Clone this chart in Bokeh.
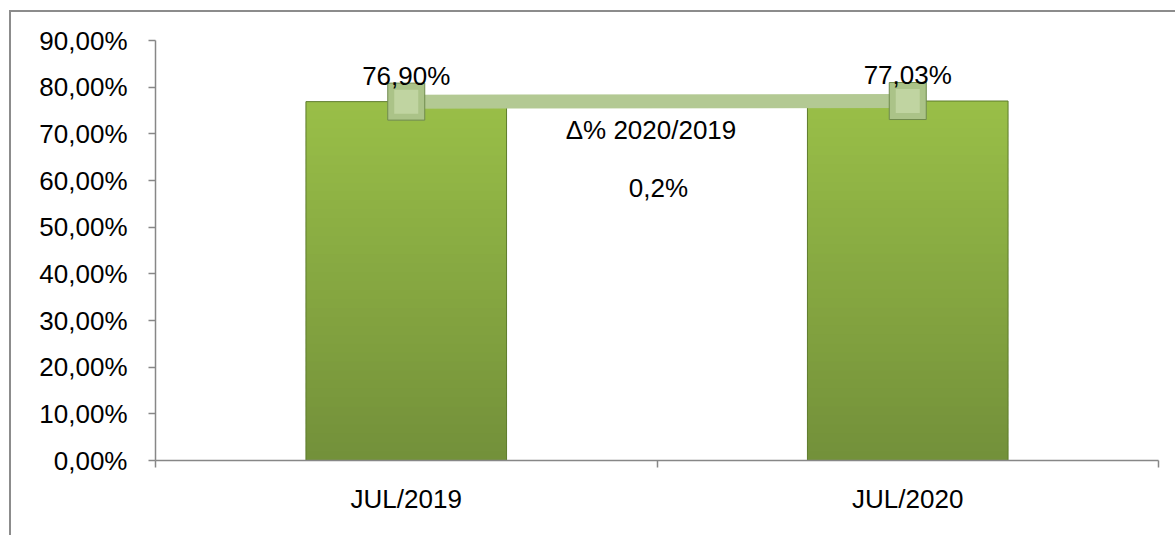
from bokeh.plotting import figure
from bokeh.models import Range1d, FixedTicker, LinearAxis, Label
from bokeh.embed import file_html
from bokeh.resources import INLINE
from bokeh.core.properties import value

# ---- data ----
categories = ["JUL/2019", "JUL/2020"]
values = [76.90, 77.03]
value_labels = ["76,90%", "77,03%"]
y_ticks = [0, 10, 20, 30, 40, 50, 60, 70, 80, 90]
y_tick_labels = ["0,00%", "10,00%", "20,00%", "30,00%", "40,00%",
                 "50,00%", "60,00%", "70,00%", "80,00%", "90,00%"]
delta_title = "Δ% 2020/2019"
delta_value = "0,2%"

FONT = "Liberation Sans"
AXIS_COLOR = "#878787"

xs = [i + 0.5 for i in range(len(categories))]
x_bounds = [i for i in range(len(categories) + 1)]

p = figure(width=1175, height=535,
           x_range=Range1d(0, len(categories)), y_range=Range1d(0, 90),
           x_axis_type=None, y_axis_type=None,
           output_backend="svg", toolbar_location=None,
           min_border_left=155, min_border_right=17,
           min_border_top=40, min_border_bottom=75,
           border_fill_color=None, outline_line_color=None,
           background_fill_color="white",
           styles={"box-shadow": "inset 9px 10px 0 0 white, inset 11px 12px 0 0 #8c8c8c",
                   "background-color": "white"})

yaxis = LinearAxis(ticker=FixedTicker(ticks=y_ticks, minor_ticks=[]),
                   major_label_overrides={t: l for t, l in zip(y_ticks, y_tick_labels)},
                   major_tick_out=7, major_tick_in=0, minor_tick_out=0, minor_tick_in=0,
                   axis_line_color=AXIS_COLOR, axis_line_width=1.5,
                   major_tick_line_color=AXIS_COLOR, major_tick_line_width=1.5,
                   major_label_text_font=FONT, major_label_text_font_size="26px",
                   major_label_text_color="black", major_label_standoff=21)
p.add_layout(yaxis, "left")

xaxis = LinearAxis(ticker=FixedTicker(ticks=xs, minor_ticks=x_bounds),
                   major_label_overrides={x: c for x, c in zip(xs, categories)},
                   major_tick_out=0, major_tick_in=0,
                   minor_tick_out=7, minor_tick_in=0,
                   axis_line_color=AXIS_COLOR, axis_line_width=1.5,
                   minor_tick_line_color=AXIS_COLOR, minor_tick_line_width=1.5,
                   major_label_text_font=FONT, major_label_text_font_size="26px",
                   major_label_text_color="black", major_label_standoff=16)
p.add_layout(xaxis, "below")

# ---- bars with vertical gradient ----
def lerp(c1, c2, t):
    a = [int(c1[i:i + 2], 16) for i in (1, 3, 5)]
    b = [int(c2[i:i + 2], 16) for i in (1, 3, 5)]
    return "#%02x%02x%02x" % tuple(round(a[k] + (b[k] - a[k]) * t) for k in range(3))

BOTTOM_C = "#73903a"
TOP_C = "#99bf48"
N = 40
BAR_W = 0.4
for x, v in zip(xs, values):
    lefts, rights, bots, tops, cols = [], [], [], [], []
    for k in range(N):
        lefts.append(x - BAR_W / 2)
        rights.append(x + BAR_W / 2)
        bots.append(v * k / N)
        tops.append(min(v, v * (k + 1.6) / N))
        cols.append(lerp(BOTTOM_C, TOP_C, (k + 0.5) / N))
    p.quad(left=lefts, right=rights, bottom=bots, top=tops,
           fill_color=cols, line_color=None)

p.quad(left=[x - BAR_W / 2 for x in xs], right=[x + BAR_W / 2 for x in xs],
       bottom=[0] * len(xs), top=values,
       fill_color=None, line_color="#5e7c2c", line_width=1)

# ---- line series ----
p.line(x=xs, y=values, line_color="#b3c993", line_width=14)
p.scatter(x=xs, y=values, marker="square", size=37,
          fill_color="#abc388", line_color="#6f8a4c", line_width=1)
p.scatter(x=xs, y=values, marker="square", size=24,
          fill_color="#c0d4a1", line_color=None)

p.text(x=xs, y=values, text=value_labels, text_align="center", text_baseline="middle",
       y_offset=-26, text_font=value(FONT), text_font_size="26px", text_color="black")

p.add_layout(Label(x=0.988, y=70.9, text=delta_title, text_align="center",
                   text_baseline="middle", text_font=FONT, text_font_size="26px",
                   text_color="black"))
p.add_layout(Label(x=1.003, y=58.4, text=delta_value, text_align="center",
                   text_baseline="middle", text_font=FONT, text_font_size="26px",
                   text_color="black"))

open("out.html", "w").write(file_html(p, INLINE))
